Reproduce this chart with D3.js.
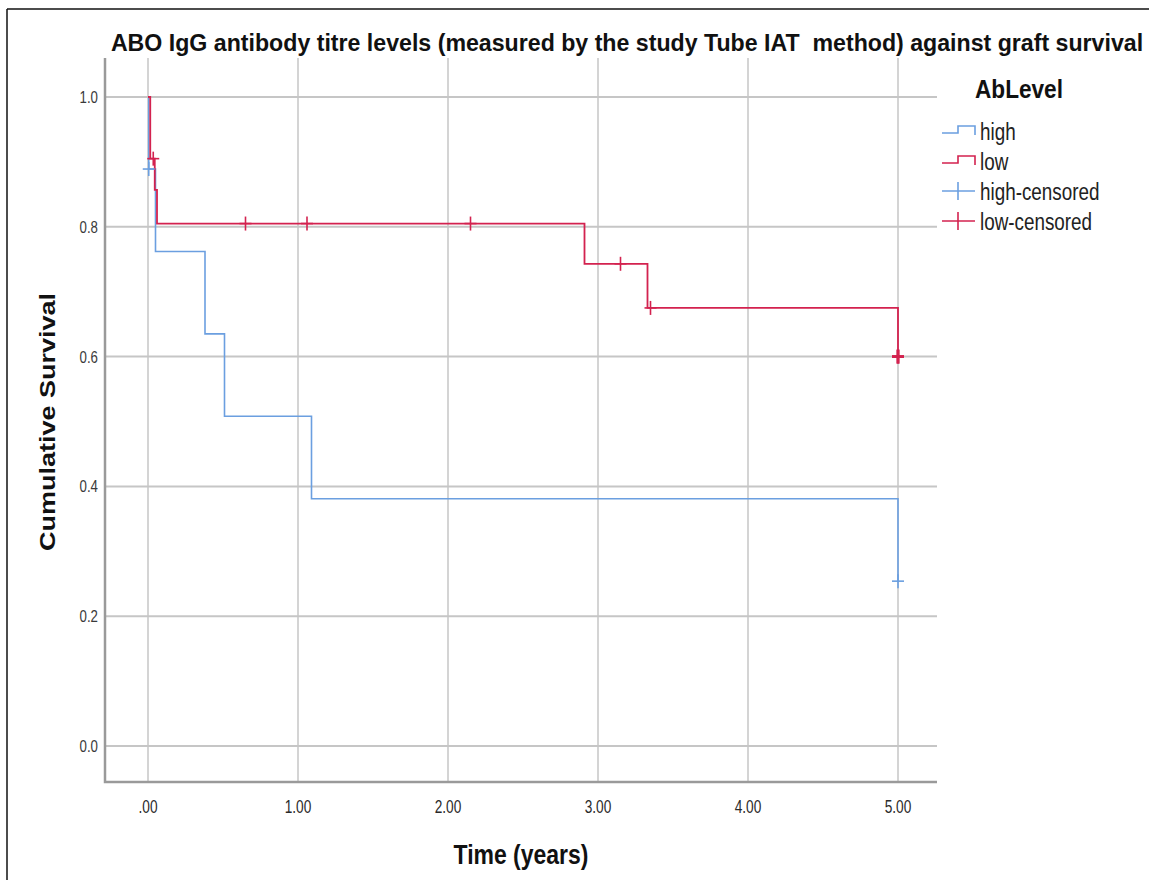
<!DOCTYPE html>
<html>
<head>
<meta charset="utf-8">
<script src="https://cdn.jsdelivr.net/npm/d3@7"></script>
<style>
  body { margin: 0; background: #fff; }
  svg { display: block; }
  text { font-family: "Liberation Sans", Arial, sans-serif; }
</style>
</head>
<body>
<script>
// Kaplan-Meier steps
var highTimes = [0, 0.005, 0.05, 0.38, 0.51, 1.09, 5.0];
var highSurv  = [1, 0.889, 0.762, 0.635, 0.508, 0.381, 0.254];
var lowTimes  = [0, 0.015, 0.045, 0.06, 2.91, 3.33, 5.0];
var lowSurv   = [1, 0.905, 0.857, 0.805, 0.743, 0.675, 0.6];

// censored marks
var highCensTimes = [0.005, 5.0];
var highCensSurv  = [0.889, 0.254];
var lowCensTimes  = [0.035, 0.65, 1.06, 2.15, 3.15, 3.35, 5.0, 5.0];
var lowCensSurv   = [0.905, 0.805, 0.805, 0.805, 0.743, 0.675, 0.6, 0.6];

var xTicks = [0, 1, 2, 3, 4, 5];
var yTicks = [0, 0.2, 0.4, 0.6, 0.8, 1.0];
var legendLabels = ["high", "low", "high-censored", "low-censored"];

var blue = "#6b9fe0", red = "#d3224f";

var W = 1149, H = 880;
var plot = {left: 105, right: 937, top: 58, bottom: 782};
var squash = 0.82;   // the source picture is squeezed sideways

var svg = d3.select("body").append("svg")
    .attr("width", W)
    .attr("height", H);

// put a text in a squeezed group; fitW forces a width
function label(px, py, str, size, weight, anchor, sx, fitW) {
    var g = svg.append("g");
    var t = g.append("text")
        .attr("text-anchor", anchor)
        .style("font-size", size + "px")
        .style("font-weight", weight)
        .attr("fill", "#111")
        .text(str);
    if (fitW) sx = fitW / t.node().getComputedTextLength();
    g.attr("transform", "translate(" + px + "," + py + ") scale(" + sx + ",1)");
    return t;
}

// frame lines at the picture edge
svg.append("line").attr("x1", 7).attr("x2", W).attr("y1", 9).attr("y2", 9)
    .attr("stroke", "#111").attr("stroke-width", 1.5);
svg.append("line").attr("x1", 7).attr("x2", 7).attr("y1", 9).attr("y2", H)
    .attr("stroke", "#111").attr("stroke-width", 1.5);

var x = d3.scaleLinear().domain([0, 5]).range([148, 898]);
var y = d3.scaleLinear().domain([0, 1]).range([746, 97]);

// Grid
var grid = svg.append("g");
grid.selectAll(".vg").data(xTicks).enter().append("line")
    .attr("x1", function(d) { return x(d); })
    .attr("x2", function(d) { return x(d); })
    .attr("y1", plot.top).attr("y2", plot.bottom)
    .attr("stroke", "#c6c6c6").attr("stroke-width", 1.5);
grid.selectAll(".hg").data(yTicks).enter().append("line")
    .attr("x1", plot.left).attr("x2", plot.right)
    .attr("y1", function(d) { return y(d); })
    .attr("y2", function(d) { return y(d); })
    .attr("stroke", "#c6c6c6").attr("stroke-width", 2);

// Tick labels
xTicks.forEach(function(d) {
    label(x(d), 813, d === 0 ? ".00" : d3.format(".2f")(d), 19, "normal", "middle", 0.72)
        .attr("fill", "#2a2a2a");
});
yTicks.forEach(function(d) {
    label(98, y(d) + 6, d3.format(".1f")(d), 17, "normal", "end", 0.78)
        .attr("fill", "#3a3a3a");
});

svg.append("path")
    .attr("d", "M" + plot.left + "," + plot.top + "V" + plot.bottom + "H" + plot.right)
    .attr("fill", "none").attr("stroke", "#9a9a9a").attr("stroke-width", 2.5);

// Survival steps
var step = d3.line()
    .x(function(d) { return x(d[0]); })
    .y(function(d) { return y(d[1]); })
    .curve(d3.curveStepAfter);

svg.append("path")
    .datum(d3.zip(highTimes, highSurv))
    .attr("d", step)
    .attr("fill", "none").attr("stroke", blue).attr("stroke-width", 1.6);
svg.append("path")
    .datum(d3.zip(lowTimes, lowSurv))
    .attr("d", step)
    .attr("fill", "none").attr("stroke", red).attr("stroke-width", 1.8);

// Censored crosses (tied marks drawn heavier)
function crosses(times, surv, color) {
    var g = svg.append("g").attr("stroke", color).attr("stroke-width", 1.6);
    var pts = d3.zip(times, surv);
    pts.forEach(function(d, i) {
        var cx = x(d[0]), cy = y(d[1]);
        var tied = pts.some(function(o, j) { return j !== i && o[0] === d[0] && o[1] === d[1]; });
        var w = tied ? 2.8 : 1.6;
        g.append("line").attr("x1", cx - 6).attr("x2", cx + 6)
            .attr("y1", cy).attr("y2", cy).attr("stroke-width", w);
        g.append("line").attr("x1", cx).attr("x2", cx)
            .attr("y1", cy - 7).attr("y2", cy + 7).attr("stroke-width", w);
    });
}
crosses(highCensTimes, highCensSurv, blue);
crosses(lowCensTimes, lowCensSurv, red);

// Titles
label(627, 51, "ABO IgG antibody titre levels (measured by the study Tube IAT  method) against graft survival",
    24, "bold", "middle", squash, 1026).style("white-space", "pre");
label((plot.left + plot.right) / 2, 864, "Time (years)", 27, "bold", "middle", squash, 135);

svg.append("text")
    .attr("transform", "translate(55,422) scale(" + squash + ",1) rotate(-90)")
    .attr("text-anchor", "middle")
    .style("font-size", "27px").style("font-weight", "bold").attr("fill", "#111")
    .text("Cumulative Survival");

// Legend
label(975, 98, "AbLevel", 25, "bold", "start", squash, 88);

legendLabels.forEach(function(name, i) {
    var cy = 131 + i * 30;
    var color = (i % 2 === 0) ? blue : red;
    if (i < 2) {
        svg.append("path")
            .attr("d", "M942," + (cy + 2) + "H958V" + (cy - 5) + "H975V" + (cy + 4))
            .attr("fill", "none").attr("stroke", color).attr("stroke-width", 1.6);
    } else {
        svg.append("line").attr("x1", 942).attr("x2", 975).attr("y1", cy).attr("y2", cy)
            .attr("stroke", color).attr("stroke-width", 1.6);
        svg.append("line").attr("x1", 958).attr("x2", 958).attr("y1", cy - 9).attr("y2", cy + 9)
            .attr("stroke", color).attr("stroke-width", 1.6);
    }
    label(980, cy + 9, name, 23, "normal", "start", squash).attr("fill", "#222");
});
</script>
</body>
</html>
